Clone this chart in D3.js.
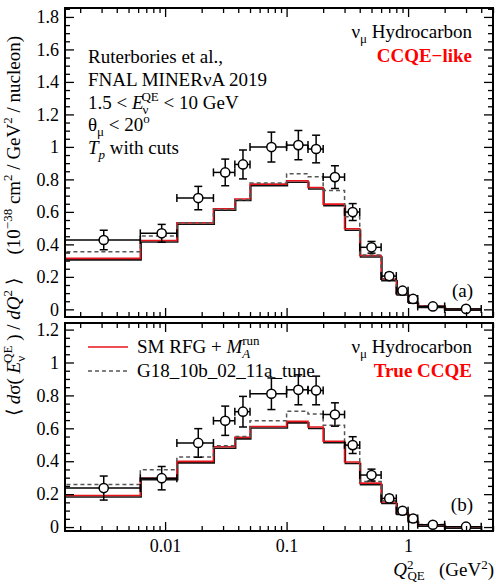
<!DOCTYPE html>
<html><head><meta charset="utf-8">
<script src="https://cdn.jsdelivr.net/npm/d3@7"></script>
<style>
body{margin:0;background:#fff}
svg{display:block}
text{font-family:"Liberation Serif","Times New Roman",serif;fill:#000}
</style>
</head><body>
<script>
// Q^2_QE bin edges (GeV^2) and the data-point positions (bin centres)
const binEdges   = [0, 0.00625, 0.0125, 0.025, 0.0375, 0.05, 0.1, 0.15, 0.2, 0.3, 0.4, 0.6, 0.8, 1.0, 1.2, 2.0, 4.0];
const binCenters = [0.003125, 0.009375, 0.01875, 0.03125, 0.04375, 0.075, 0.125, 0.175, 0.25, 0.35, 0.5, 0.7, 0.9, 1.1, 1.6, 3.0];

// panel (a): CCQE-like
const dataA = [0.427, 0.468, 0.685, 0.843, 0.892, 0.999, 1.011, 0.987, 0.814, 0.599, 0.382, 0.205, 0.115, 0.064, 0.018, 0.003];
const errA  = [0.060, 0.055, 0.072, 0.082, 0.089, 0.092, 0.090, 0.085, 0.070, 0.052, 0.036, 0.020, 0.012, 0.009, 0.005, 0.003];
const rfgA  = [0.314, 0.424, 0.533, 0.619, 0.679, 0.771, 0.792, 0.750, 0.648, 0.496, 0.332, 0.185, 0.098, 0.047, 0.021, 0.004];
const g18A  = [0.355, 0.451, 0.533, 0.615, 0.675, 0.778, 0.834, 0.816, 0.732, 0.570, 0.335, 0.188, 0.100, 0.049, 0.021, 0.004];

// panel (b): True CCQE
const dataB = [0.237, 0.297, 0.511, 0.646, 0.701, 0.810, 0.834, 0.830, 0.684, 0.498, 0.316, 0.174, 0.099, 0.052, 0.014, 0.002];
const errB  = [0.073, 0.071, 0.087, 0.089, 0.093, 0.096, 0.091, 0.087, 0.071, 0.051, 0.036, 0.020, 0.012, 0.009, 0.004, 0.002];
const rfgB  = [0.192, 0.297, 0.399, 0.488, 0.545, 0.611, 0.642, 0.608, 0.521, 0.395, 0.267, 0.152, 0.085, 0.040, 0.014, 0.002];
const g18B  = [0.259, 0.348, 0.425, 0.494, 0.551, 0.646, 0.703, 0.687, 0.618, 0.480, 0.277, 0.160, 0.088, 0.042, 0.015, 0.002];

const yTicksA = [0, 0.2, 0.4, 0.6, 0.8, 1, 1.2, 1.4, 1.6, 1.8];
const yTicksB = [0, 0.2, 0.4, 0.6, 0.8, 1, 1.2];
const xTickLabels = [0.01, 0.1, 1];
const xMinor = [0.002,0.003,0.004,0.005,0.006,0.007,0.008,0.009,0.02,0.03,0.04,0.05,0.06,0.07,0.08,0.09,0.2,0.3,0.4,0.5,0.6,0.7,0.8,0.9,2,3,4,5];

const W = 496, H = 584;
const FS = 18, TS = 19, SS = 13;
const svg = d3.select("body").append("svg").attr("width", W).attr("height", H);

const x = d3.scaleLog().domain([0.0015, 5]).range([65, 493]);

const panels = [
  {id:"a", y:d3.scaleLinear().domain([-0.047, 1.855]).range([317, 8]),
   data:dataA, err:errA, rfg:rfgA, g18:g18A, yTicks:yTicksA, tag:"CCQE\u2212like", lab:"(a)", showX:false},
  {id:"b", y:d3.scaleLinear().domain([-0.024, 1.24]).range([531, 323]),
   data:dataB, err:errB, rfg:rfgB, g18:g18B, yTicks:yTicksB, tag:"True CCQE", lab:"(b)", showX:true}
];

panels.forEach(p => {
  const y = p.y;
  const [x0, x1] = x.range();
  const [yb, yt] = y.range();
  const g = svg.append("g");

  svg.append("clipPath").attr("id", "clip" + p.id)
    .append("rect").attr("x", x0).attr("y", yt).attr("width", x1 - x0).attr("height", yb - yt);

  const plot = g.append("g").attr("clip-path", `url(#clip${p.id})`);

  const stepPts = vals => {
    const pts = [];
    vals.forEach((v, i) => {
      const lo = Math.max(binEdges[i], x.domain()[0] * 0.9);
      pts.push([lo, v], [binEdges[i + 1], v]);
    });
    return pts;
  };
  const line = d3.line().x(d => x(d[0])).y(d => y(d[1]));

  // black companion line under the red histogram
  plot.append("path").attr("d", line(stepPts(p.rfg)))
    .attr("fill", "none").attr("stroke", "#111").attr("stroke-width", 1.6)
    .attr("transform", "translate(0.8,1.5)");
  plot.append("path").attr("d", line(stepPts(p.rfg)))
    .attr("fill", "none").attr("stroke", "#e8141c").attr("stroke-width", 1.6);
  plot.append("path").attr("d", line(stepPts(p.g18)))
    .attr("fill", "none").attr("stroke", "#555").attr("stroke-width", 1.5)
    .attr("stroke-dasharray", "4,3");

  // data with error bars
  const eb = plot.append("g").attr("stroke", "#000").attr("stroke-width", 1.5).attr("fill", "none");
  p.data.forEach((v, i) => {
    const cx = x(binCenters[i]), cy = y(v);
    const lo = binEdges[i] > 0 ? x(binEdges[i]) : x0 - 2;
    const hi = x(binEdges[i + 1]);
    eb.append("line").attr("x1", lo).attr("x2", hi).attr("y1", cy).attr("y2", cy);
    if (binEdges[i] > 0)
      eb.append("line").attr("x1", lo).attr("x2", lo).attr("y1", cy - 4).attr("y2", cy + 4);
    eb.append("line").attr("x1", hi).attr("x2", hi).attr("y1", cy - 4).attr("y2", cy + 4);
    const ylo = y(v - p.err[i]), yhi = y(v + p.err[i]);
    eb.append("line").attr("x1", cx).attr("x2", cx).attr("y1", ylo).attr("y2", yhi);
    eb.append("line").attr("x1", cx - 4).attr("x2", cx + 4).attr("y1", ylo).attr("y2", ylo);
    eb.append("line").attr("x1", cx - 4).attr("x2", cx + 4).attr("y1", yhi).attr("y2", yhi);
  });
  plot.append("g").selectAll("circle").data(p.data).join("circle")
    .attr("cx", (d, i) => x(binCenters[i])).attr("cy", d => y(d)).attr("r", 4.6)
    .attr("fill", "#fff").attr("stroke", "#000").attr("stroke-width", 1.5);

  // axes ticks
  const yMinor = d3.range(0, y.domain()[1], 0.05).filter(v => !p.yTicks.some(t => Math.abs(t - v) < 1e-6));
  const style = sel => { sel.select(".domain").remove(); sel.selectAll("line").attr("stroke", "#000").attr("stroke-width", 1.3); };

  g.append("g").attr("transform", `translate(${x0},0)`)
    .call(d3.axisLeft(y).tickValues(p.yTicks).tickSize(-9).tickPadding(6).tickFormat(d3.format("~g")))
    .call(style).call(s => s.selectAll("text").attr("font-size", FS).attr("font-family", "Liberation Serif"));
  g.append("g").attr("transform", `translate(${x0},0)`)
    .call(d3.axisLeft(y).tickValues(yMinor).tickSize(-5).tickFormat("")).call(style);
  g.append("g").attr("transform", `translate(${x1},0)`)
    .call(d3.axisRight(y).tickValues(p.yTicks).tickSize(-9).tickFormat("")).call(style);
  g.append("g").attr("transform", `translate(${x1},0)`)
    .call(d3.axisRight(y).tickValues(yMinor).tickSize(-5).tickFormat("")).call(style);

  const xb = g.append("g").attr("transform", `translate(0,${yb})`)
    .call(d3.axisBottom(x).tickValues(xTickLabels).tickSize(-9).tickPadding(8)
      .tickFormat(p.showX ? d3.format("~g") : ""))
    .call(style);
  xb.selectAll("text").attr("font-size", FS).attr("font-family", "Liberation Serif");
  g.append("g").attr("transform", `translate(0,${yb})`)
    .call(d3.axisBottom(x).tickValues(xMinor).tickSize(-5).tickFormat("")).call(style);
  g.append("g").attr("transform", `translate(0,${yt})`)
    .call(d3.axisTop(x).tickValues(xTickLabels).tickSize(-9).tickFormat("")).call(style);
  g.append("g").attr("transform", `translate(0,${yt})`)
    .call(d3.axisTop(x).tickValues(xMinor).tickSize(-5).tickFormat("")).call(style);

  g.append("rect").attr("x", x0).attr("y", yt).attr("width", x1 - x0).attr("height", yb - yt)
    .attr("fill", "none").attr("stroke", "#000").attr("stroke-width", 2);

  // top-right labels
  const rx = 472;
  const t1 = g.append("text").attr("x", rx).attr("y", yt + 30).attr("text-anchor", "end").attr("font-size", TS);
  t1.append("tspan").text("\u03bd");
  t1.append("tspan").attr("dy", 5).attr("font-size", SS).text("\u03bc");
  t1.append("tspan").attr("dy", -5).text(" Hydrocarbon");
  g.append("text").attr("x", rx).attr("y", yt + 54).attr("text-anchor", "end").attr("font-size", TS)
    .attr("font-weight", "bold").style("fill", "#ff0000").text(p.tag);
  g.append("text").attr("x", 473).attr("y", yb - 20).attr("text-anchor", "end").attr("font-size", TS).text(p.lab);
});

// top-left text block in panel (a)
const tx = 88;
svg.append("text").attr("x", tx).attr("y", 63).attr("font-size", TS).text("Ruterbories et al.,");
svg.append("text").attr("x", tx).attr("y", 86).attr("font-size", TS).text("FNAL MINER\u03bdA 2019");
const l3 = svg.append("text").attr("x", tx).attr("y", 109).attr("font-size", TS);
l3.append("tspan").text("1.5 < ");
l3.append("tspan").attr("font-style", "italic").text("E");
l3.append("tspan").attr("font-size", SS).attr("dy", 5).attr("dx", -1).text("\u03bd");
l3.append("tspan").attr("font-size", SS).attr("dy", -13).attr("dx", -7).text("QE");
l3.append("tspan").attr("dy", 8).text(" < 10 GeV");
const l4 = svg.append("text").attr("x", tx).attr("y", 131).attr("font-size", TS);
l4.append("tspan").text("\u03b8");
l4.append("tspan").attr("font-size", SS).attr("dy", 5).text("\u03bc");
l4.append("tspan").attr("dy", -5).text(" < 20");
l4.append("tspan").attr("font-size", SS).attr("dy", -8).text("o");
const l5 = svg.append("text").attr("x", tx).attr("y", 154).attr("font-size", TS);
l5.append("tspan").attr("font-style", "italic").text("T");
l5.append("tspan").attr("font-style", "italic").attr("font-size", SS).attr("dy", 5).text("p");
l5.append("tspan").attr("dy", -5).text(" with cuts");

// legend in panel (b)
const legendItems = [
  {name:"SM RFG", color:"#e8141c", dash:null},
  {name:"G18_10b_02_11a_tune", color:"#555", dash:"4,3"}
];
legendItems.forEach((d, i) => {
  const ly = 347 + i * 24;
  svg.append("line").attr("x1", 88).attr("x2", 128).attr("y1", ly).attr("y2", ly)
    .attr("stroke", d.color).attr("stroke-width", 1.5).attr("stroke-dasharray", d.dash);
  const t = svg.append("text").attr("x", 137).attr("y", ly + 6).attr("font-size", TS);
  if (i === 0) {
    t.append("tspan").text("SM RFG + ");
    t.append("tspan").attr("font-style", "italic").text("M");
    t.append("tspan").attr("font-style", "italic").attr("font-size", SS).attr("dy", 5).text("A");
    t.append("tspan").attr("font-size", SS).attr("dy", -13).attr("dx", -8).text("run");
  } else {
    t.text(d.name);
  }
});

// x-axis title
const xt = svg.append("text").attr("x", 494).attr("y", 576).attr("text-anchor", "end").attr("font-size", TS);
xt.append("tspan").attr("font-style", "italic").text("Q");
xt.append("tspan").attr("font-size", SS).attr("dy", -7).text("2");
xt.append("tspan").attr("font-size", SS).attr("dy", 11).attr("dx", -6).text("QE");
xt.append("tspan").attr("dy", -4).text("\u2002 (GeV");
xt.append("tspan").attr("font-size", SS).attr("dy", -7).text("2");
xt.append("tspan").attr("dy", 7).text(")");

// y-axis title
const yt = svg.append("text").attr("transform", "translate(20,226) rotate(-90)")
  .attr("text-anchor", "middle").attr("font-size", TS);
yt.append("tspan").text("\u27e8 ");
yt.append("tspan").attr("font-style", "italic").text("d");
yt.append("tspan").text("\u03c3( ");
yt.append("tspan").attr("font-style", "italic").text("E");
yt.append("tspan").attr("font-size", SS).attr("dy", 5).text("\u03bd");
yt.append("tspan").attr("font-size", SS).attr("dy", -13).attr("dx", -7).text("QE");
yt.append("tspan").attr("dy", 8).text(" ) / ");
yt.append("tspan").attr("font-style", "italic").text("dQ");
yt.append("tspan").attr("font-size", SS).attr("dy", -8).text("2");
yt.append("tspan").attr("dy", 8).text(" \u27e9\u2003 (10");
yt.append("tspan").attr("font-size", SS).attr("dy", -8).text("\u221238");
yt.append("tspan").attr("dy", 8).text(" cm");
yt.append("tspan").attr("font-size", SS).attr("dy", -8).text("2");
yt.append("tspan").attr("dy", 8).text(" / GeV");
yt.append("tspan").attr("font-size", SS).attr("dy", -8).text("2");
yt.append("tspan").attr("dy", 8).text(" / nucleon)");
</script>
</body></html>
